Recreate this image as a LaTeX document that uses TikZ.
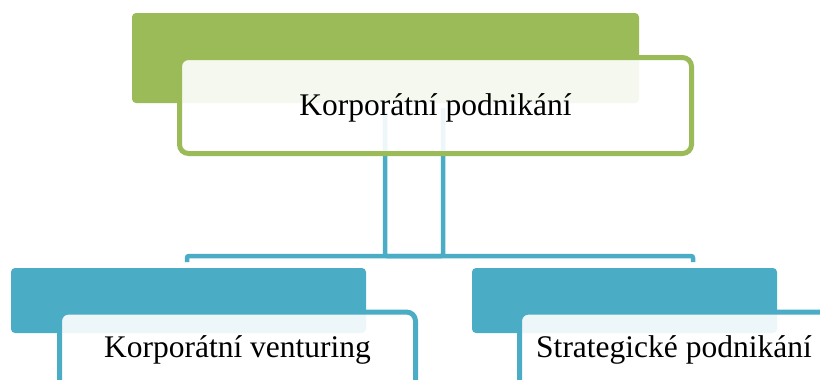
\documentclass[tikz,border=0pt]{standalone}
\usepackage{fontspec}
\setmainfont{Liberation Serif}
\usepackage{xcolor}
\definecolor{chartGreen}{HTML}{9BBB59}
\definecolor{chartBlue}{HTML}{4BACC6}
\usetikzlibrary{calc}

\begin{document}
\begin{tikzpicture}[x = 1pt, y = -1pt,
		backbox/.style = {rectangle, rounded corners = 4pt, inner sep = 0pt},
		frontbox/.style = {rectangle, rounded corners = 9pt, draw = #1, line width = 5pt,
			fill = white, fill opacity = 0.9, text opacity = 1, inner sep = 0pt,
			text height = 21.5pt, text depth = 2.5pt,
			font = \fontsize{31.5}{36}\selectfont},
		lowbox/.style = {text depth = 21.5pt},
		link/.style = {draw = chartBlue, line width = 4.5pt, rounded corners = 2pt}]
	\def\barY{256};
	\def\backH{65};
	\def\frontH{90};

	\clip (0,0) rectangle (820,380);

	\begin{scope}
		\node [backbox, fill = chartGreen, minimum width = 507pt, minimum height = 90pt] (korpBack) at (385.5,58) {};
		\node [backbox, fill = chartBlue, minimum width = 355pt, minimum height = \backH pt] (ventBack) at (188.5,300.5) {};
		\node [backbox, fill = chartBlue, minimum width = 305pt, minimum height = \backH pt] (stratBack) at (624.5,300.5) {};
	\end{scope}

	\begin{scope}
		\coordinate (stemL) at (443,108);
		\coordinate (stemR) at (385,113);
		\coordinate (hookL) at (187,262);
		\coordinate (hookR) at (693,262);
		\draw [link] (stemL) -- (stemL |- 0,\barY) -| (hookL);
		\draw [link] (stemR) -- (stemR |- 0,\barY) -| (hookR);
	\end{scope}

	\begin{scope}
		\node [frontbox = chartGreen, minimum width = 512pt, minimum height = 96pt] (korp) at (435.5,105.5) {Korporátní podnikání};
		\node [frontbox = chartBlue, lowbox, minimum width = 356pt, minimum height = \frontH pt] (vent) at (237.5,357) {Korporátní venturing};
		\node [frontbox = chartBlue, lowbox, minimum width = 309pt, minimum height = \frontH pt] (strat) at (674,357) {Strategické podnikání};
	\end{scope}
\end{tikzpicture}
\end{document}
